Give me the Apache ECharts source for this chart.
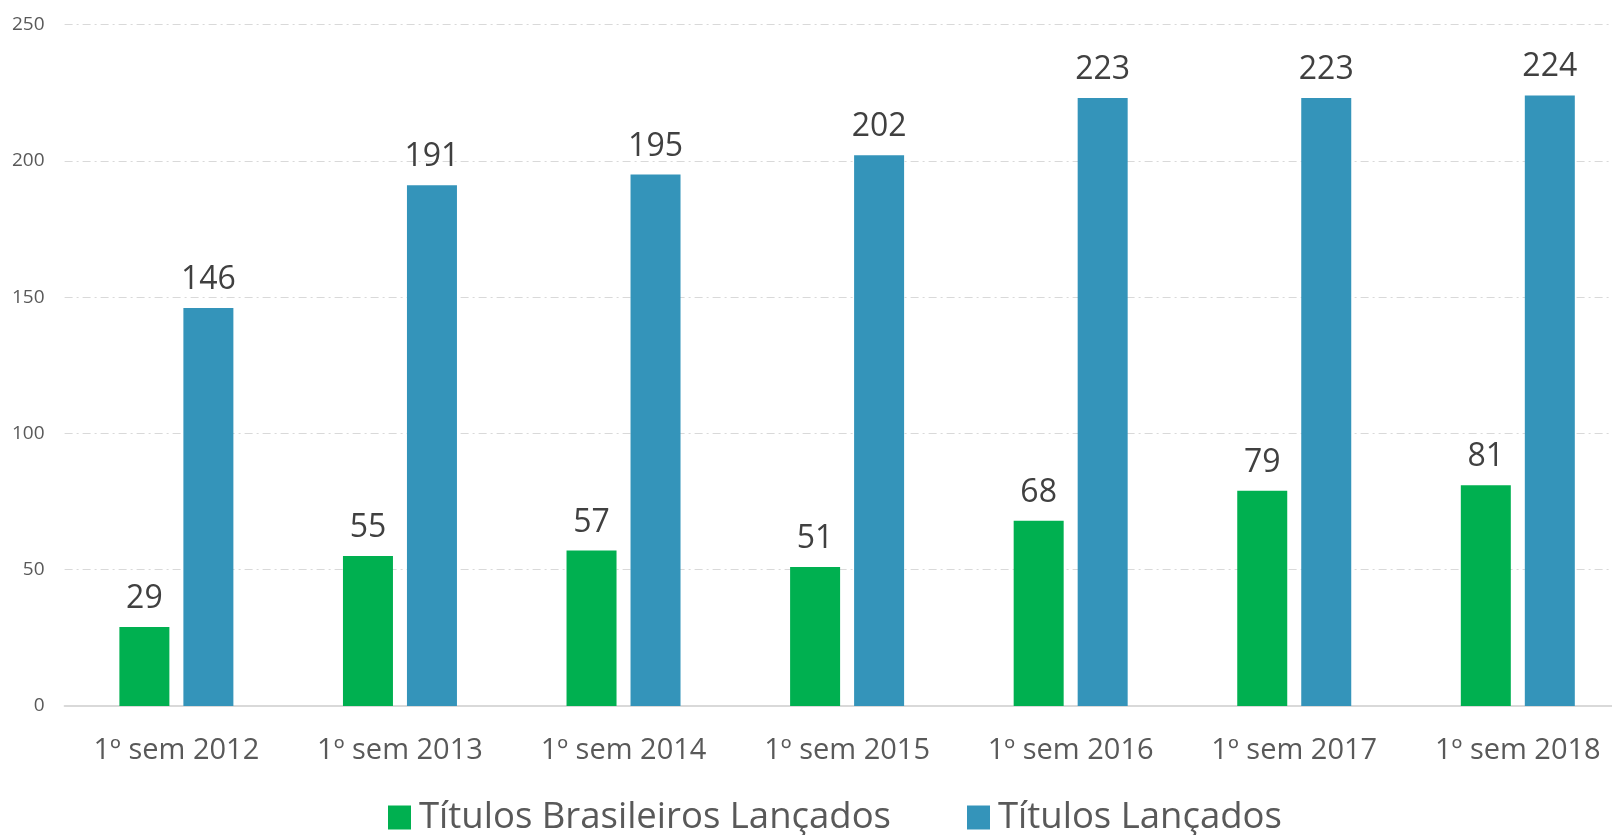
<!DOCTYPE html>
<html>
<head>
<meta charset="utf-8">
<script src="https://cdn.jsdelivr.net/npm/echarts@6/dist/echarts.min.js"></script>
<style>
html,body{margin:0;padding:0;background:#fff;}
#chart{width:1612px;height:835px;}
</style>
</head>
<body>
<div id="chart"></div>
<script>
const categories = ['1º sem 2012','1º sem 2013','1º sem 2014','1º sem 2015','1º sem 2016','1º sem 2017','1º sem 2018'];
const seriesNames = ['Títulos Brasileiros Lançados','Títulos Lançados'];
const brasileiros = [29,55,57,51,68,79,81];
const lancados = [146,191,195,202,223,223,224];
const yTicks = {min:0, max:250, interval:50};

const FONT = '"Open Sans", "Noto Sans", sans-serif';
const chart = echarts.init(document.getElementById('chart'), null, {renderer:'canvas'});
const labelStyle = {show:true, position:'top', distance:12, color:'#404040', fontSize:32, fontFamily:FONT};
chart.setOption({
  animation:false,
  backgroundColor:'#ffffff',
  grid:{left:64.6, top:24.5, width:1565, height:681.5, containLabel:false, outerBoundsMode:'none'},
  legend:{
    data:seriesNames,
    left:383, top:794,
    itemWidth:23, itemHeight:24, itemGap:76,
    icon:'rect',
    textStyle:{fontSize:36.5, color:'#595959', fontFamily:FONT, padding:[0,0,0,3]}
  },
  xAxis:{
    type:'category', data:categories,
    axisLine:{show:true, lineStyle:{color:'#d9d9d9', width:2}},
    axisTick:{show:false},
    axisLabel:{interval:0, margin:30, fontSize:29, color:'#595959', fontFamily:FONT}
  },
  yAxis:{
    type:'value', min:yTicks.min, max:yTicks.max, interval:yTicks.interval,
    axisLine:{show:false}, axisTick:{show:false},
    axisLabel:{margin:20, fontSize:19, color:'#595959', fontFamily:FONT},
    splitLine:{show:true, lineStyle:{color:'#d9d9d9', width:1, type:[8,4,2,4]}}
  },
  series:[
    {name:seriesNames[0], type:'bar', data:brasileiros, barWidth:50, barGap:'28%',
     itemStyle:{color:'#00B050'}, label:labelStyle},
    {name:seriesNames[1], type:'bar', data:lancados, barWidth:50, barGap:'28%',
     itemStyle:{color:'#3494BA'}, label:labelStyle}
  ]
});
</script>
</body>
</html>
